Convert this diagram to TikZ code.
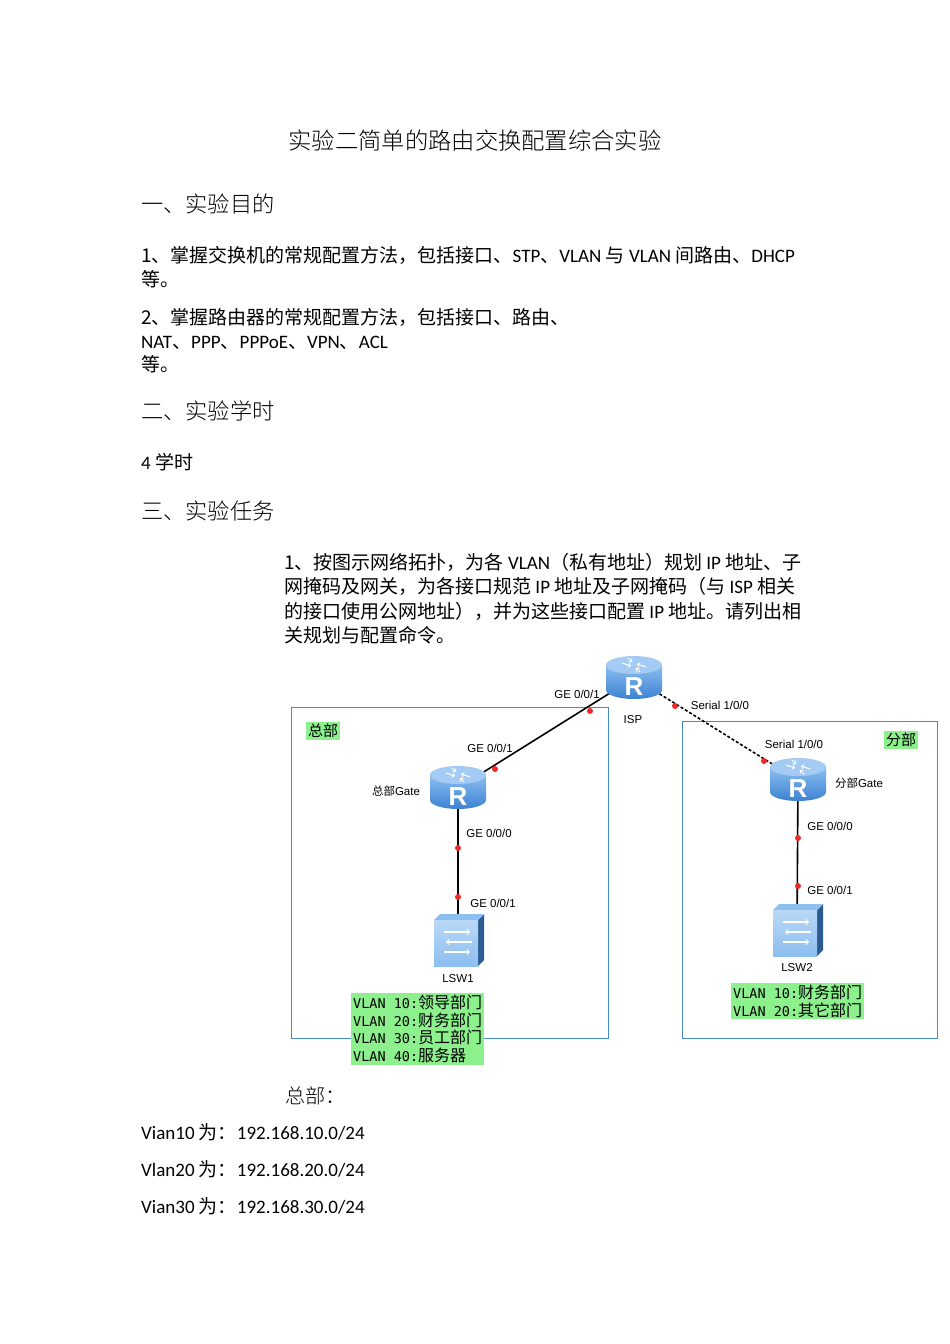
\documentclass[tikz,border=0pt]{standalone}
\usepackage{fontspec}
\setmainfont{Carlito}
\setsansfont{Liberation Sans}
\setmonofont{DejaVu Sans Mono}
\newfontfamily\cjk{Noto Sans CJK SC}
\newfontfamily\cjkl{Noto Sans CJK SC Light}[Scale=1.06]
\newfontfamily\cjkd{Noto Sans CJK SC}
\usetikzlibrary{calc}
\definecolor{rblue}{RGB}{60,130,210}
\definecolor{rlight}{RGB}{140,190,240}
\definecolor{boxblue}{RGB}{70,140,200}
\definecolor{vgreen}{RGB}{140,240,140}
\definecolor{dotred}{RGB}{240,40,40}
\newcommand{\vc}[1]{{\cjkd\fontsize{16}{17}\selectfont #1}}
\tikzset{
  body/.style={anchor=base west,inner sep=0pt,font=\fontsize{19}{21}\selectfont},
  head/.style={anchor=base west,inner sep=0pt,font=\fontsize{21}{24}\selectfont\cjkl},
  lbl/.style={inner sep=0pt,font=\sffamily\fontsize{11.5}{13}\selectfont},
  grp/.style={draw=boxblue,line width=0.8pt},
  vbox/.style={fill=vgreen,inner sep=2pt,align=left,font=\ttfamily\fontsize{13.5}{17.5}\selectfont},
  port/.style={circle,fill=dotred,inner sep=0pt,minimum size=6pt},
  link/.style={line width=1.6pt,black},
  slink/.style={line width=1.6pt,black,dash pattern=on 3pt off 2pt},
  router/.pic={
    \shade[top color=rlight,bottom color=rblue] (-28,-13) -- (-28,12) arc[start angle=180,end angle=0,x radius=28,y radius=9] -- (28,-13) -- cycle;
    \fill[rlight!80!white] (0,-13) ellipse[x radius=28,y radius=9];
    \draw[white,line width=1pt,->] (-12,-15) -- (-3,-12);
    \draw[white,line width=1pt,->] (12,-11) -- (3,-14);
    \draw[white,line width=1pt,->] (-6,-20) -- (-2,-16);
    \draw[white,line width=1pt,->] (6,-6) -- (2,-10);
    \node[white,font=\sffamily\bfseries\fontsize{26}{26}\selectfont] at (0,9) {R};
  },
  switchpic/.pic={
    \fill[rblue!70!black] (20,-20) -- (26,-26) -- (26,20) -- (20,26) -- cycle;
    \fill[rlight] (-24,-20) -- (-18,-26) -- (26,-26) -- (20,-20) -- cycle;
    \shade[top color=rlight!60!white,bottom color=rlight] (-24,-20) rectangle (20,26);
    \foreach \yy/\d in {-8/1,2/-1,12/1}{
      \draw[white,line width=1.2pt,->] ({-14*\d},\yy) -- ({12*\d},\yy);
    }
  }
}
\begin{document}
\begin{tikzpicture}[x=1pt,y=-1pt]
\useasboundingbox[fill=white] (0,0) rectangle (950,1344);
% text
\node[anchor=base,inner sep=0pt,font=\fontsize{22}{24}\selectfont\cjkl] (title) at (475,149) {实验二简单的路由交换配置综合实验};
\node[head] (h1) at (141,212) {一、实验目的};
\node[body] (l1) at (141,262) {{\cjk 1、掌握交换机的常规配置方法，包括接口、}STP{\cjk 、}VLAN {\cjk 与} VLAN {\cjk 间路由、}DHCP};
\node[body] (l2) at (141,286) {{\cjk 等。}};
\node[body] (l3) at (141,324) {{\cjk 2、掌握路由器的常规配置方法，包括接口、路由、}};
\node[body] (l4) at (141,348) {NAT{\cjk 、}PPP{\cjk 、}PPPoE{\cjk 、}VPN{\cjk 、}ACL};
\node[body] (l5) at (141,371) {{\cjk 等。}};
\node[head] (h2) at (141,419) {二、实验学时};
\node[body] (l6) at (141,469) {4 {\cjk 学时}};
\node[head] (h3) at (141,519) {三、实验任务};
\node[body] (p1) at (284,569) {{\cjk 1、按图示网络拓扑，为各} VLAN{\cjk （私有地址）规划} IP {\cjk 地址、子}};
\node[body] (p2) at (284,593) {{\cjk 网掩码及网关，为各接口规范} IP {\cjk 地址及子网掩码（与} ISP {\cjk 相关}};
\node[body] (p3) at (284,618) {{\cjk 的接口使用公网地址），并为这些接口配置} IP {\cjk 地址。请列出相}};
\node[body] (p4) at (284,642) {{\cjk 关规划与配置命令。}};
% group boxes
\draw[grp] (291,707) rectangle (608,1038);
\draw[grp] (682,721) rectangle (937,1038);
\node[fill=vgreen,inner sep=2pt,font=\cjkd\fontsize{15}{16}\selectfont] (g1) at (323,731) {总部};
\node[fill=vgreen,inner sep=2pt,font=\cjkd\fontsize{15}{16}\selectfont] (g2) at (901,740) {分部};
% devices
\coordinate (isp) at (634,678);
\coordinate (hq) at (458,788);
\coordinate (br) at (798,780);
\coordinate (sw1) at (458,940);
\coordinate (sw2) at (797,930);
% ports
\coordinate (p_isp_hq) at (590,711);
\coordinate (p_hq_isp) at (495,769);
\coordinate (p_isp_br) at (675,706);
\coordinate (p_br_isp) at (764,761);
\coordinate (p_hq_sw) at (458,848);
\coordinate (p_sw1_hq) at (458,897);
\coordinate (p_br_sw) at (798,838);
\coordinate (p_sw2_br) at (798,886);
% links
\draw[link] (isp) -- (hq);
\draw[slink] (isp) -- (br);
\draw[link] (hq) -- (sw1);
\draw[link] (br) -- (sw2);
\foreach \p in {p_isp_hq,p_hq_isp,p_isp_br,p_br_isp,p_hq_sw,p_sw1_hq,p_br_sw,p_sw2_br}{\node[port] at (\p) {};}
\pic at (isp) {router};
\pic at (hq) {router};
\pic at (br) {router};
\pic at (sw1) {switchpic};
\pic at (sw2) {switchpic};
% labels
\node[lbl] (tisp) at (633,720) {ISP};
\node[lbl] (a1) at (577,694) {GE 0/0/1};
\node[lbl] (a2) at (490,748) {GE 0/0/1};
\node[lbl] (a3) at (489,833) {GE 0/0/0};
\node[lbl] (a4) at (493,903) {GE 0/0/1};
\node[lbl] (a5) at (720,705) {Serial 1/0/0};
\node[lbl] (a6) at (794,744) {Serial 1/0/0};
\node[lbl] (a7) at (830,826) {GE 0/0/0};
\node[lbl] (a8) at (830,890) {GE 0/0/1};
\node[lbl] (thq) at (396,791) {{\cjkd 总部}Gate};
\node[lbl] (tbr) at (859,783) {{\cjkd 分部}Gate};
\node[lbl] (ts1) at (458,979) {LSW1};
\node[lbl] (ts2) at (797,968) {LSW2};
\node[vbox,anchor=north west] (v1) at (351,993) {VLAN 10:\vc{领导部门}\\VLAN 20:\vc{财务部门}\\VLAN 30:\vc{员工部门}\\VLAN 40:\vc{服务器}};
\node[vbox,anchor=north west] (v2) at (731,983) {VLAN 10:\vc{财务部门}\\VLAN 20:\vc{其它部门}};
% bottom
\node[body] (b0) at (285,1103) {{\cjkl 总部：}};
\node[body] (b1) at (141,1139) {Vian10 {\cjk 为：}192.168.10.0/24};
\node[body] (b2) at (141,1176) {Vlan20 {\cjk 为：}192.168.20.0/24};
\node[body] (b3) at (141,1213) {Vian30 {\cjk 为：}192.168.30.0/24};
\end{tikzpicture}
\end{document}
